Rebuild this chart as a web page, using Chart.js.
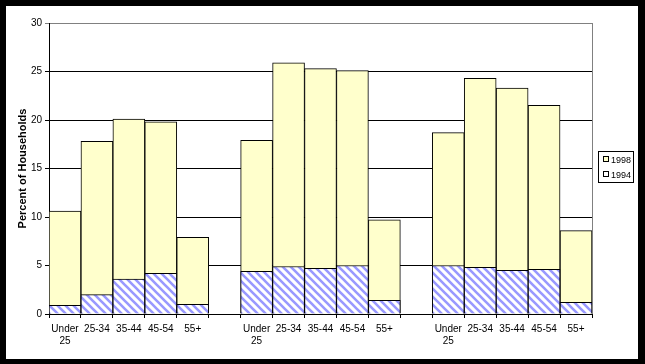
<!DOCTYPE html>
<html>
<head>
<meta charset="utf-8">
<script src="https://cdn.jsdelivr.net/npm/chart.js@4.4.0/dist/chart.umd.min.js"></script>
<style>
  body { margin: 0; background: #000; width: 645px; height: 364px; overflow: hidden; }
  #frame { position: absolute; left: 6px; top: 6px; width: 632px; height: 353px; background: #fff; }
  #legend { position: absolute; left: 592px; top: 145px; width: 34px; height: 30px; border: 1px solid #000;
            font: 9px "Liberation Sans", Arial, sans-serif; color: #000; }
  .row { position: absolute; left: 4px; height: 12px; line-height: 12px; white-space: nowrap; }
  .sw { display: inline-block; width: 4px; height: 4px; border: 1px solid #000; margin-right: 2px; vertical-align: 1px; }
</style>
</head>
<body>
<div id="frame">
  <canvas id="chart"></canvas>
  <div id="legend">
    <div class="row" style="top:2px"><span class="sw" style="background:#FFFFCC"></span>1998</div>
    <div class="row" style="top:17px"><span class="sw" style="background:#fff"></span>1994</div>
  </div>
</div>
<script>
// data set
var ages = [['Under', '25'], '25-34', '35-44', '45-54', '55+'];
var labels = [].concat(ages, [''], ages, [''], ages);
var v1998 = [10.6, 17.8, 20.1, 19.8, 7.9, null, 17.9, 25.9, 25.3, 25.1, 9.7, null, 18.7, 24.3, 23.3, 21.5, 8.6];
var v1994 = [0.9, 2.0, 3.6, 4.2, 1.0, null, 4.4, 4.9, 4.7, 5.0, 1.4, null, 5.0, 4.8, 4.5, 4.6, 1.2];
var yTicks = [0, 5, 10, 15, 20, 25, 30];

// hatch for 1994
function hatch() {
  var c = document.createElement('canvas');
  c.width = 8; c.height = 8;
  var g = c.getContext('2d');
  g.fillStyle = '#fff';
  g.fillRect(0, 0, 8, 8);
  g.strokeStyle = '#9999FF';
  g.lineWidth = 2.6;
  g.beginPath();
  g.moveTo(-2, -2); g.lineTo(10, 10);
  g.moveTo(-2, 6); g.lineTo(2, 10);
  g.moveTo(6, -2); g.lineTo(10, 2);
  g.stroke();
  return g.createPattern(c, 'repeat');
}

var font = { family: '"Liberation Sans", Arial, sans-serif', size: 10 };

var border = {
  id: 'border',
  beforeDatasetsDraw(chart) {
    var a = chart.chartArea, ctx = chart.ctx;
    ctx.save();
    ctx.strokeStyle = '#808080';
    ctx.lineWidth = 1;
    ctx.beginPath();
    ctx.moveTo(Math.round(a.right) + 0.5, a.top);
    ctx.lineTo(Math.round(a.right) + 0.5, a.bottom);
    ctx.stroke();
    ctx.restore();
  }
};

new Chart('chart', {
  type: 'bar',
  data: {
    labels: labels,
    datasets: [{
      label: '1994',
      data: v1994,
      backgroundColor: hatch(),
      borderColor: '#000',
      borderWidth: 1,
      grouped: false,
      order: 0
    }, {
      label: '1998',
      data: v1998,
      backgroundColor: '#FFFFCC',
      borderColor: '#000',
      borderWidth: 1,
      grouped: false,
      order: 1
    }]
  },
  options: {
    responsive: true,
    maintainAspectRatio: false,
    animation: false,
    layout: { padding: { left: 6, top: 17, right: 46, bottom: 0 } },
    barPercentage: 1,
    categoryPercentage: 1,
    plugins: { legend: { display: false }, tooltip: { enabled: false } },
    scales: {
      x: {
        grid: { drawOnChartArea: false, drawTicks: true, tickLength: 4, color: '#000', offset: true },
        border: { color: '#000', width: 1 },
        ticks: { color: '#000', font: font, maxRotation: 0, autoSkip: false, padding: 5 },
        afterFit(s) { s.height = 45; }
      },
      y: {
        min: 0,
        max: 30,
        afterBuildTicks(s) { s.ticks = yTicks.map(v => ({ value: v })); },
        grid: {
          color: c => c.tick && c.tick.value === 30 ? '#808080' : '#000',
          tickLength: 4
        },
        border: { color: '#000', width: 1 },
        ticks: { color: '#000', font: font, padding: 3 },
        title: {
          display: true,
          text: 'Percent of Households',
          color: '#000',
          font: { family: '"Liberation Sans", Arial, sans-serif', size: 11, weight: 'bold' },
          padding: { top: 4, bottom: 0 }
        },
        afterFit(s) { s.width = 37; }
      }
    }
  },
  plugins: [border]
});
</script>
</body>
</html>
